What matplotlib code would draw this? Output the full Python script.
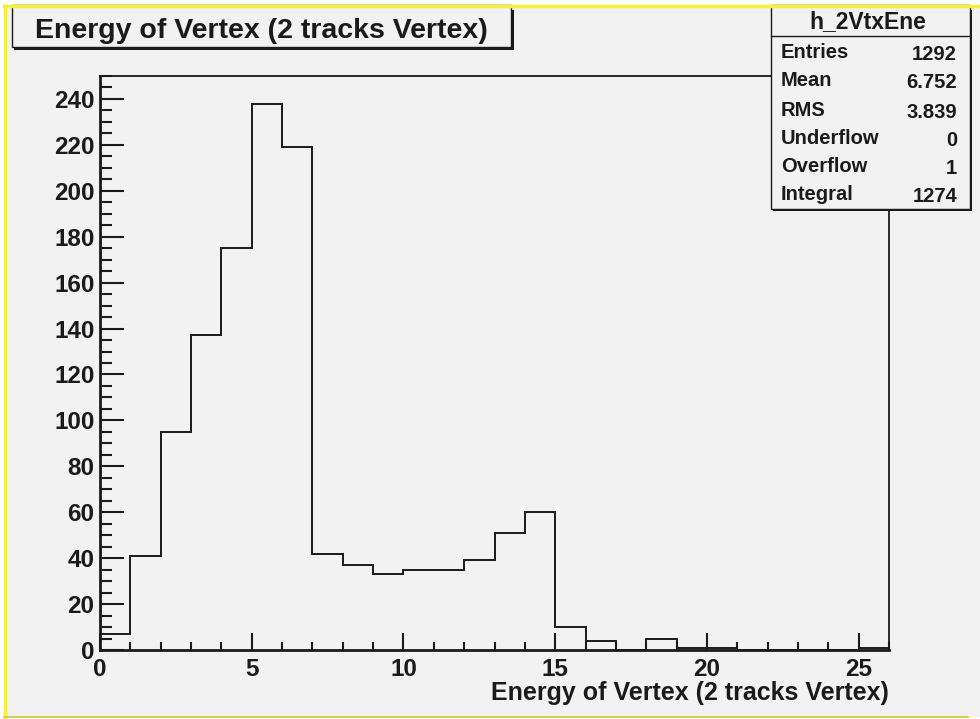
import numpy as np
import matplotlib
matplotlib.use("Agg")
import matplotlib.pyplot as plt
from matplotlib.patches import Rectangle
from matplotlib.lines import Line2D
from matplotlib.ticker import MultipleLocator

# ---- data ----
bin_edges = list(range(0, 27))
counts = [7, 41, 95, 137, 175, 238, 219, 42, 37, 33, 35, 35, 39, 51, 60,
          10, 4, 0, 5, 1, 1, 0, 0, 0, 0, 1]
title = "Energy of Vertex (2 tracks Vertex)"
xlabel = "Energy of Vertex (2 tracks Vertex)"
stats_name = "h_2VtxEne"
stats_labels = ["Entries", "Mean", "RMS", "Underflow", "Overflow", "Integral"]
stats_values = ["1292", "6.752", "3.839", "0", "1", "1274"]

W, H = 980, 719
FONT = "Liberation Sans"
BG = "#f2f2f2"
INK = "#1a1a1a"

def fx(x):
    return x / W

def fy(y):
    return 1 - y / H

fig = plt.figure(figsize=(W / 100, H / 100), dpi=100, facecolor="white")

# canvas background with yellow border (top/left)
fig.add_artist(Rectangle((fx(4), fy(717)), fx(990) - fx(4), fy(6) - fy(717),
                         transform=fig.transFigure, facecolor=BG,
                         edgecolor="none", zorder=0))
fig.add_artist(Line2D([fx(5), fx(5)], [fy(6), fy(717)], transform=fig.transFigure,
                      color="#f5f03a", lw=2.5, zorder=1))
fig.add_artist(Line2D([fx(4), fx(968)], [fy(717), fy(717)], transform=fig.transFigure,
                      color="#d0d050", lw=1.4, zorder=1))

# axes
ax = fig.add_axes([fx(100), fy(650), fx(889) - fx(100), fy(76) - fy(650)])
ax.set_facecolor(BG)
ax.stairs(counts, bin_edges, color=INK, linewidth=1.4, baseline=0)
ax.set_xlim(0, 26)
ax.set_ylim(0, 250)

for side in ["left", "bottom"]:
    ax.spines[side].set_linewidth(2.0)
for side in ["top", "right"]:
    ax.spines[side].set_linewidth(1.3)
for s in ax.spines.values():
    s.set_color(INK)

ax.xaxis.set_major_locator(MultipleLocator(5))
ax.xaxis.set_minor_locator(MultipleLocator(1))
ax.yaxis.set_major_locator(MultipleLocator(20))
ax.yaxis.set_minor_locator(MultipleLocator(5))
ax.tick_params(axis="x", which="major", direction="in", length=12, width=1.5,
               color=INK, pad=6, top=False)
ax.tick_params(axis="x", which="minor", direction="in", length=6, width=1.5,
               color=INK, top=False)
ax.tick_params(axis="y", which="major", direction="in", length=17, width=1.5,
               color=INK, pad=4, right=False)
ax.tick_params(axis="y", which="minor", direction="in", length=8.5, width=1.5,
               color=INK, right=False)
for lab in ax.get_xticklabels() + ax.get_yticklabels():
    lab.set_fontfamily(FONT)
    lab.set_fontweight("bold")
    lab.set_fontsize(17.5)
    lab.set_color(INK)

fig.text(fx(889), fy(693), xlabel, ha="right", va="center", family=FONT,
         fontweight="bold", fontsize=18, color=INK)

# title box with shadow
fig.add_artist(Rectangle((fx(14), fy(50)), fx(514) - fx(14), fy(10) - fy(50),
                         transform=fig.transFigure, facecolor=INK,
                         edgecolor=INK, lw=0, zorder=3))
fig.add_artist(Rectangle((fx(12), fy(47)), fx(511) - fx(12), fy(5) - fy(47),
                         transform=fig.transFigure, facecolor=BG,
                         edgecolor=INK, lw=1.0, zorder=4))
fig.text(fx(261), fy(38), title, ha="center", va="baseline", family=FONT,
         fontweight="bold", fontsize=20.5, color=INK, zorder=6)

# stats box with shadow
fig.add_artist(Rectangle((fx(773), fy(211)), fx(972) - fx(773), fy(10) - fy(211),
                         transform=fig.transFigure, facecolor=INK,
                         edgecolor=INK, lw=0, zorder=3))
fig.add_artist(Rectangle((fx(771), fy(209)), fx(970) - fx(771), fy(5) - fy(209),
                         transform=fig.transFigure, facecolor=BG,
                         edgecolor=INK, lw=1.0, zorder=4))
fig.add_artist(Line2D([fx(771), fx(970)], [fy(36), fy(36)], transform=fig.transFigure,
                      color=INK, lw=1.0, zorder=5))
# top yellow line drawn over boxes
fig.add_artist(Line2D([fx(4), fx(990)], [fy(6), fy(6)], transform=fig.transFigure,
                      color="#f5f03a", lw=2.5, zorder=7))
fig.text(fx(868), fy(22), stats_name, ha="center", va="center", family=FONT,
         fontweight="bold", fontsize=16.5, color=INK, zorder=6)
row_y = [52, 81, 110, 138, 166, 194]
for yy, lab, val in zip(row_y, stats_labels, stats_values):
    fig.text(fx(781), fy(yy), lab, ha="left", va="center", family=FONT,
             fontweight="bold", fontsize=14.5, color=INK, zorder=6)
    fig.text(fx(957), fy(yy + 2), val, ha="right", va="center", family=FONT,
             fontweight="bold", fontsize=14.5, color=INK, zorder=6)

fig.savefig("out.png", dpi=100, facecolor="white")
